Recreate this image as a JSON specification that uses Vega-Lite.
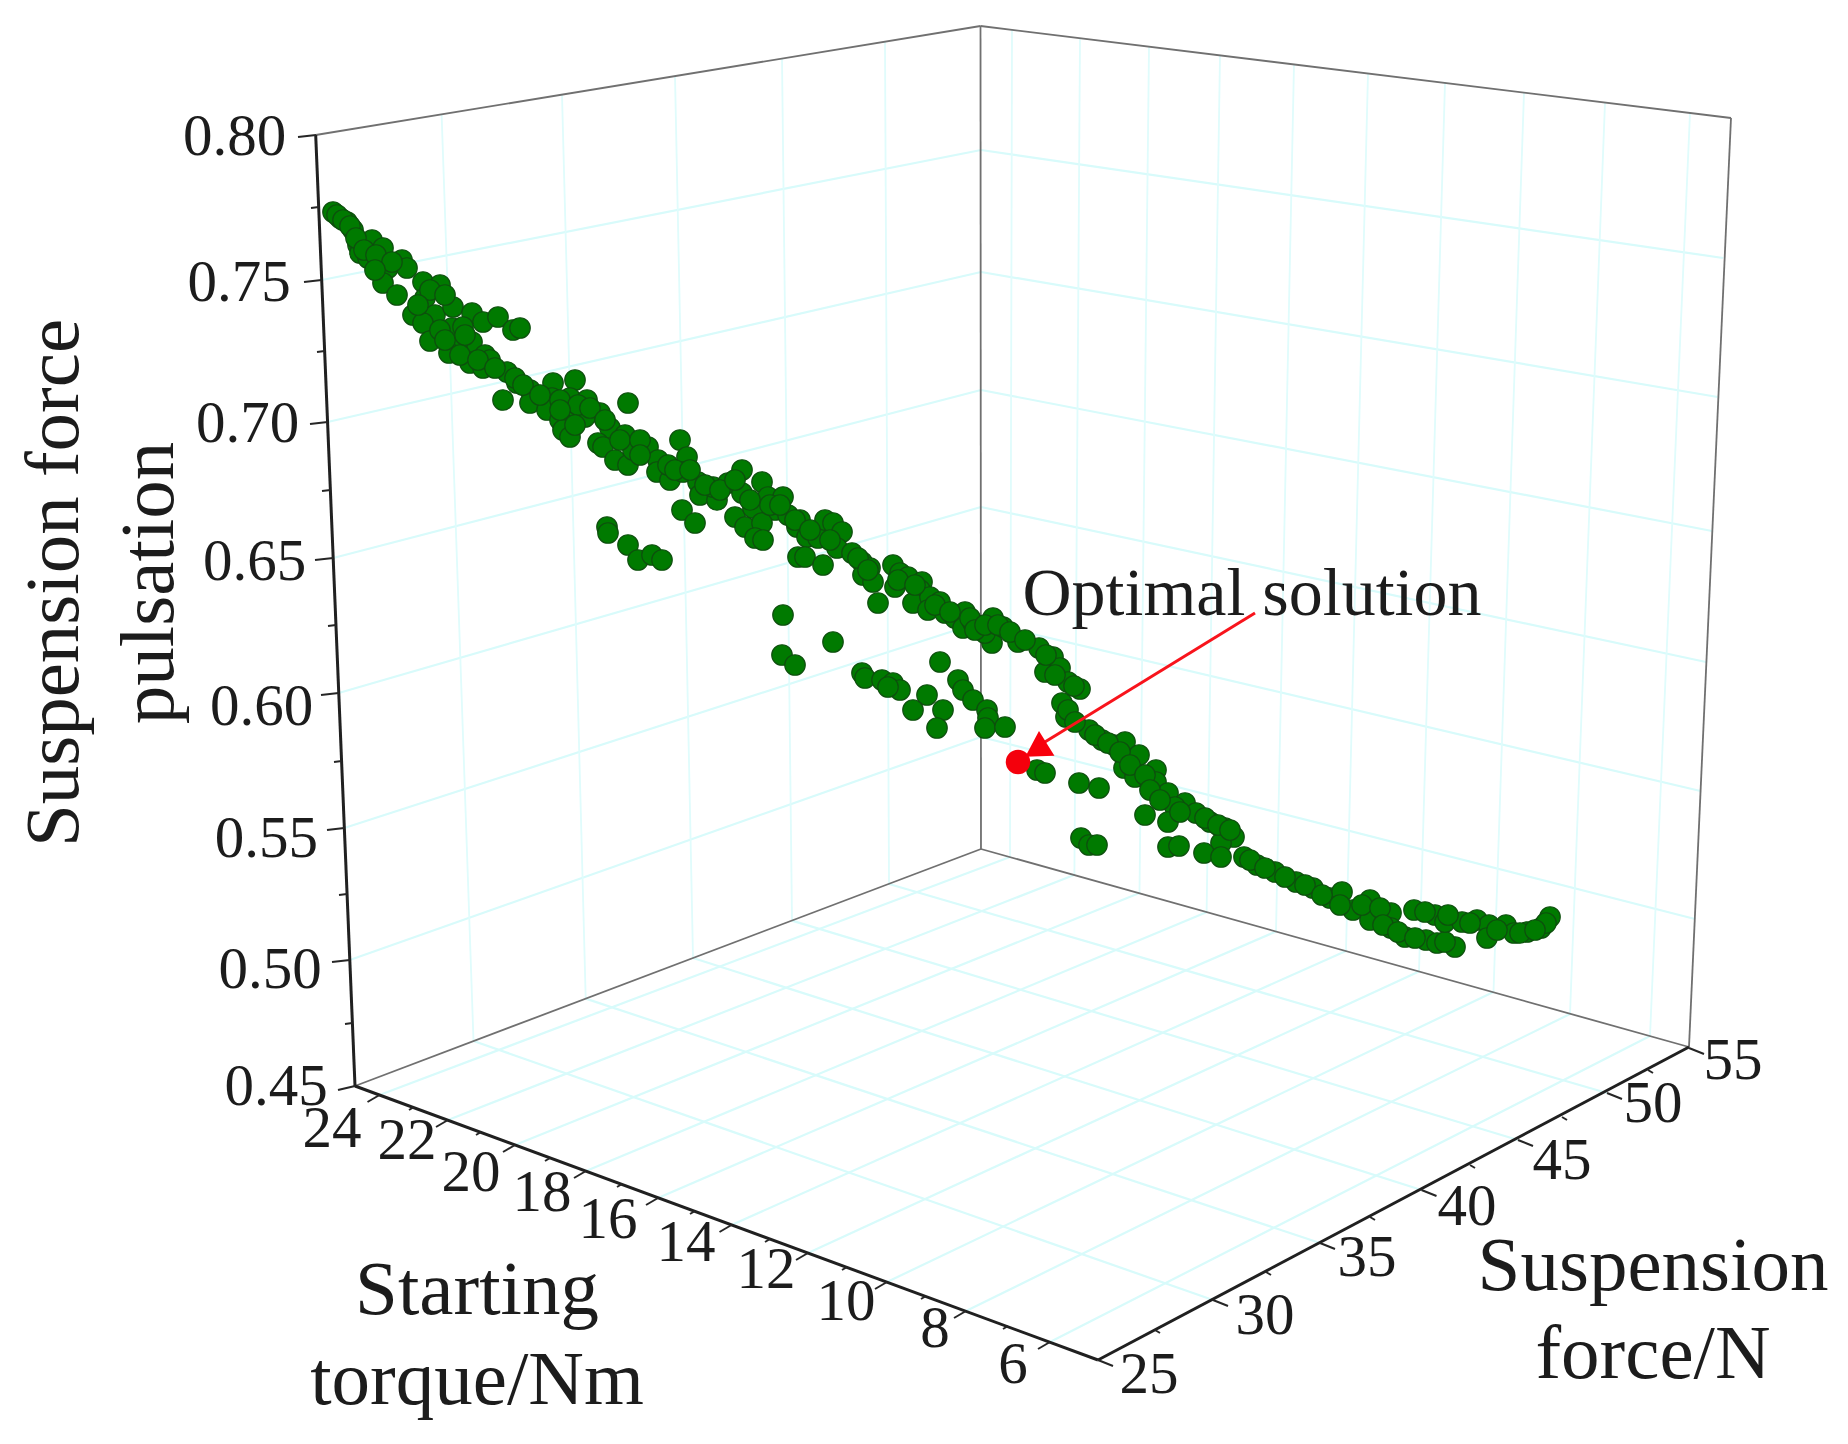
{"$schema":"https://vega.github.io/schema/vega-lite/v6.json","width":1848,"height":1444,"autosize":{"type":"fit","contains":"padding"},"padding":0,"background":"white","view":{"stroke":null},
"datasets":{
"gridH":[{"x0":321.7,"y0":280,"x1":981,"y1":150},{"x0":327.6,"y0":422,"x1":981,"y1":272},{"x0":333.2,"y0":558,"x1":981,"y1":390},{"x0":338.7,"y0":693,"x1":981,"y1":507},{"x0":344.3,"y0":828,"x1":981,"y1":622},{"x0":349.8,"y0":960,"x1":981,"y1":737},{"x0":981,"y0":150,"x1":1723,"y1":258},{"x0":981,"y0":272,"x1":1717.6,"y1":397},{"x0":981,"y0":390,"x1":1712,"y1":531},{"x0":981,"y0":507,"x1":1706,"y1":662},{"x0":981,"y0":622,"x1":1700.5,"y1":791},{"x0":981,"y0":737,"x1":1695,"y1":919},
{"x0":379.5,"y0":1095,"x1":1010,"y1":857},{"x0":448,"y0":1120,"x1":1074,"y1":875},{"x0":515,"y0":1145,"x1":1139.5,"y1":893},{"x0":586,"y0":1171,"x1":1207,"y1":912},{"x0":658,"y0":1198,"x1":1276,"y1":931.5},{"x0":731.5,"y0":1225,"x1":1346,"y1":951},{"x0":808,"y0":1253,"x1":1419,"y1":971.5},{"x0":887,"y0":1282,"x1":1493.5,"y1":992},{"x0":966,"y0":1311,"x1":1570,"y1":1014},{"x0":1050,"y0":1342,"x1":1650,"y1":1036},
{"x0":473.5,"y0":1041,"x1":1213,"y1":1300},{"x0":585.7,"y0":998.6,"x1":1320,"y1":1243},{"x0":693,"y0":958,"x1":1421.5,"y1":1190},{"x0":792,"y0":920.6,"x1":1518,"y1":1140},{"x0":889,"y0":884,"x1":1607,"y1":1093}],
"gridV":[{"x0":441.6,"y0":114.4,"x1":473.5,"y1":1041},{"x0":562,"y0":94.7,"x1":585.7,"y1":998.6},{"x0":675,"y0":76,"x1":693,"y1":958},{"x0":782,"y0":58.6,"x1":792,"y1":920.6},{"x0":885,"y0":41.7,"x1":889,"y1":884},
{"x0":1012,"y0":30,"x1":1010,"y1":857},{"x0":1080,"y0":38,"x1":1074.4,"y1":875},{"x0":1149,"y0":47,"x1":1139.5,"y1":893},{"x0":1220,"y0":55,"x1":1206.6,"y1":912},{"x0":1294,"y0":64,"x1":1276,"y1":931.5},{"x0":1368,"y0":73.5,"x1":1346,"y1":951},{"x0":1445,"y0":83,"x1":1419,"y1":971.5},{"x0":1524,"y0":92.6,"x1":1493.5,"y1":992},{"x0":1605,"y0":102.6,"x1":1570,"y1":1014},{"x0":1690,"y0":113,"x1":1650,"y1":1036}],
"walls":[{"x0":315.7,"y0":135,"x1":980.5,"y1":26},{"x0":980.5,"y0":26,"x1":1731,"y1":118},{"x0":980.5,"y0":26,"x1":981,"y1":849},{"x0":1731,"y0":118,"x1":1689,"y1":1047},{"x0":355,"y0":1086,"x1":981,"y1":849},{"x0":981,"y0":849,"x1":1689,"y1":1047}],
"axes":[{"x0":315.7,"y0":135,"x1":355,"y1":1086},{"x0":355,"y0":1086,"x1":1098,"y1":1360},{"x0":1098,"y0":1360,"x1":1689,"y1":1047}],
"ticks":[{"x0":298,"y0":137,"x1":316,"y1":135},{"x0":304,"y0":282,"x1":321.7,"y1":280},{"x0":310,"y0":424,"x1":327.6,"y1":422},{"x0":315,"y0":560,"x1":333.2,"y1":558},{"x0":321,"y0":695,"x1":338.7,"y1":693},{"x0":327,"y0":830,"x1":344.3,"y1":828},{"x0":332,"y0":962,"x1":349.8,"y1":960},{"x0":338,"y0":1090,"x1":355,"y1":1086},
{"x0":311,"y0":208,"x1":318.7,"y1":207},{"x0":317,"y0":352,"x1":324.7,"y1":351},{"x0":322,"y0":491,"x1":330.4,"y1":490},{"x0":328,"y0":626,"x1":336,"y1":625},{"x0":334,"y0":762,"x1":341.6,"y1":761},{"x0":339,"y0":895,"x1":347,"y1":894},{"x0":345,"y0":1024,"x1":352.4,"y1":1023},
{"x0":379.5,"y0":1095,"x1":367.5,"y1":1102},{"x0":448,"y0":1120,"x1":436,"y1":1127},{"x0":515,"y0":1145,"x1":503,"y1":1152},{"x0":586,"y0":1171,"x1":574,"y1":1178},{"x0":658,"y0":1198,"x1":646,"y1":1205},{"x0":731.5,"y0":1225,"x1":719.5,"y1":1232},{"x0":808,"y0":1253,"x1":796,"y1":1260},{"x0":887,"y0":1282,"x1":875,"y1":1289},{"x0":966,"y0":1311,"x1":954,"y1":1318},{"x0":1050,"y0":1342,"x1":1038,"y1":1349},
{"x0":414,"y0":1107,"x1":409,"y1":1110},{"x0":481,"y0":1132,"x1":476,"y1":1135},{"x0":550,"y0":1158,"x1":545,"y1":1161},{"x0":622,"y0":1184,"x1":617,"y1":1187},{"x0":695,"y0":1211,"x1":690,"y1":1214},{"x0":770,"y0":1239,"x1":765,"y1":1242},{"x0":847,"y0":1267,"x1":842,"y1":1270},{"x0":926,"y0":1296,"x1":921,"y1":1299},{"x0":1008,"y0":1326,"x1":1003,"y1":1329},
{"x0":1098,"y0":1360,"x1":1113,"y1":1366},{"x0":1213,"y0":1300,"x1":1228,"y1":1306},{"x0":1320,"y0":1243,"x1":1335,"y1":1249},{"x0":1421.5,"y0":1190,"x1":1436.5,"y1":1196},{"x0":1518,"y0":1140,"x1":1533,"y1":1146},{"x0":1607,"y0":1093,"x1":1622,"y1":1099},{"x0":1689,"y0":1048,"x1":1704,"y1":1054},
{"x0":1155,"y0":1330,"x1":1160,"y1":1333},{"x0":1266,"y0":1272,"x1":1271,"y1":1275},{"x0":1370,"y0":1217,"x1":1375,"y1":1220},{"x0":1470,"y0":1165,"x1":1475,"y1":1168},{"x0":1562,"y0":1117,"x1":1567,"y1":1120},{"x0":1648,"y0":1070,"x1":1653,"y1":1073}],
"pts":[{"x0":333,"y0":212},{"x0":340,"y0":218},{"x0":347,"y0":222},{"x0":353,"y0":230},{"x0":358,"y0":245},{"x0":360,"y0":253},{"x0":368,"y0":258},{"x0":372,"y0":240},{"x0":383,"y0":248},{"x0":380,"y0":262},{"x0":388,"y0":268},{"x0":402,"y0":260},{"x0":407,"y0":268},{"x0":383,"y0":283},{"x0":397,"y0":295},{"x0":423,"y0":282},{"x0":440,"y0":285},{"x0":425,"y0":298},{"x0":413,"y0":315},{"x0":435,"y0":315},{"x0":423,"y0":323},{"x0":453,"y0":307},{"x0":472,"y0":313},{"x0":483,"y0":322},{"x0":498,"y0":317},{"x0":513,"y0":330},{"x0":520,"y0":328},{"x0":452,"y0":328},{"x0":463,"y0":327},{"x0":430,"y0":341},{"x0":472,"y0":342},{"x0":457,"y0":345},{"x0":449,"y0":353},{"x0":485,"y0":355},{"x0":470,"y0":363},{"x0":483,"y0":368},{"x0":490,"y0":360},{"x0":507,"y0":372},{"x0":517,"y0":383},{"x0":530,"y0":390},{"x0":503,"y0":400},{"x0":530,"y0":403},{"x0":553,"y0":383},{"x0":575,"y0":380},{"x0":552,"y0":398},{"x0":570,"y0":398},{"x0":547,"y0":410},{"x0":587,"y0":400},{"x0":600,"y0":413},{"x0":572,"y0":417},{"x0":585,"y0":417},{"x0":560,"y0":420},{"x0":563,"y0":430},{"x0":570,"y0":437},{"x0":628,"y0":403},{"x0":610,"y0":428},{"x0":625,"y0":435},{"x0":598,"y0":443},{"x0":603,"y0":447},{"x0":615,"y0":460},{"x0":628,"y0":465},{"x0":633,"y0":450},{"x0":648,"y0":447},{"x0":658,"y0":460},{"x0":657,"y0":472},{"x0":670,"y0":480},{"x0":680,"y0":440},{"x0":687,"y0":457},{"x0":683,"y0":472},{"x0":698,"y0":482},{"x0":700,"y0":495},{"x0":717,"y0":500},{"x0":713,"y0":487},{"x0":728,"y0":483},{"x0":742,"y0":470},{"x0":742,"y0":493},{"x0":682,"y0":510},{"x0":695,"y0":523},{"x0":735,"y0":517},{"x0":745,"y0":527},{"x0":607,"y0":527},{"x0":608,"y0":533},{"x0":628,"y0":545},{"x0":638,"y0":560},{"x0":652,"y0":555},{"x0":662,"y0":560},{"x0":762,"y0":482},{"x0":768,"y0":497},{"x0":783,"y0":497},{"x0":775,"y0":510},{"x0":753,"y0":508},{"x0":762,"y0":523},{"x0":755,"y0":538},{"x0":763,"y0":540},{"x0":788,"y0":515},{"x0":800,"y0":520},{"x0":797,"y0":527},{"x0":807,"y0":537},{"x0":818,"y0":538},{"x0":825,"y0":520},{"x0":833,"y0":523},{"x0":842,"y0":532},{"x0":837,"y0":548},{"x0":798,"y0":557},{"x0":805,"y0":557},{"x0":823,"y0":565},{"x0":852,"y0":553},{"x0":862,"y0":562},{"x0":870,"y0":568},{"x0":863,"y0":575},{"x0":873,"y0":582},{"x0":878,"y0":603},{"x0":893,"y0":565},{"x0":900,"y0":573},{"x0":895,"y0":587},{"x0":908,"y0":577},{"x0":922,"y0":582},{"x0":920,"y0":590},{"x0":913,"y0":603},{"x0":930,"y0":597},{"x0":928,"y0":610},{"x0":940,"y0":602},{"x0":945,"y0":613},{"x0":955,"y0":618},{"x0":965,"y0":612},{"x0":963,"y0":628},{"x0":980,"y0":628},{"x0":993,"y0":618},{"x0":992,"y0":643},{"x0":1003,"y0":627},{"x0":973,"y0":623},{"x0":985,"y0":633},{"x0":783,"y0":615},{"x0":782,"y0":655},{"x0":795,"y0":665},{"x0":833,"y0":642},{"x0":940,"y0":662},{"x0":862,"y0":673},{"x0":865,"y0":678},{"x0":882,"y0":680},{"x0":893,"y0":683},{"x0":900,"y0":690},{"x0":927,"y0":695},{"x0":913,"y0":710},{"x0":943,"y0":710},{"x0":937,"y0":728},{"x0":958,"y0":680},{"x0":963,"y0":690},{"x0":973,"y0":700},{"x0":987,"y0":710},{"x0":988,"y0":718},{"x0":985,"y0":728},{"x0":1005,"y0":727},{"x0":1018,"y0":642},{"x0":1039,"y0":648},{"x0":1053,"y0":657},{"x0":1045,"y0":672},{"x0":1060,"y0":668},{"x0":1068,"y0":682},{"x0":1080,"y0":689},{"x0":1062,"y0":703},{"x0":1066,"y0":717},{"x0":1089,"y0":730},{"x0":1102,"y0":740},{"x0":1114,"y0":745},{"x0":1125,"y0":742},{"x0":1139,"y0":755},{"x0":1124,"y0":768},{"x0":1135,"y0":777},{"x0":1156,"y0":770},{"x0":1156,"y0":782},{"x0":1168,"y0":793},{"x0":1185,"y0":803},{"x0":1175,"y0":807},{"x0":1196,"y0":813},{"x0":1210,"y0":822},{"x0":1225,"y0":828},{"x0":1234,"y0":837},{"x0":1221,"y0":843},{"x0":1145,"y0":815},{"x0":1168,"y0":822},{"x0":1168,"y0":847},{"x0":1179,"y0":846},{"x0":1204,"y0":853},{"x0":1221,"y0":857},{"x0":1081,"y0":838},{"x0":1089,"y0":845},{"x0":1097,"y0":845},{"x0":1079,"y0":783},{"x0":1099,"y0":788},{"x0":1037,"y0":770},{"x0":1045,"y0":773},{"x0":1244,"y0":857},{"x0":1257,"y0":865},{"x0":1275,"y0":872},{"x0":1296,"y0":882},{"x0":1313,"y0":888},{"x0":1330,"y0":898},{"x0":1342,"y0":892},{"x0":1353,"y0":910},{"x0":1370,"y0":900},{"x0":1370,"y0":920},{"x0":1391,"y0":913},{"x0":1391,"y0":928},{"x0":1405,"y0":937},{"x0":1426,"y0":940},{"x0":1437,"y0":943},{"x0":1455,"y0":947},{"x0":1445,"y0":942},{"x0":1414,"y0":910},{"x0":1435,"y0":915},{"x0":1445,"y0":922},{"x0":1462,"y0":922},{"x0":1477,"y0":920},{"x0":1489,"y0":925},{"x0":1487,"y0":938},{"x0":1506,"y0":925},{"x0":1514,"y0":933},{"x0":1527,"y0":932},{"x0":1541,"y0":928},{"x0":1550,"y0":917},{"x0":1546,"y0":923},
{"x0":1095,"y0":735},{"x0":1108,"y0":743},{"x0":1120,"y0":752},{"x0":1130,"y0":765},{"x0":1145,"y0":775},{"x0":1150,"y0":790},{"x0":1160,"y0":800},{"x0":1180,"y0":812},{"x0":1205,"y0":818},{"x0":1218,"y0":825},{"x0":1230,"y0":830},{"x0":1250,"y0":860},{"x0":1265,"y0":868},{"x0":1285,"y0":877},{"x0":1305,"y0":885},{"x0":1322,"y0":895},{"x0":1340,"y0":905},{"x0":1362,"y0":905},{"x0":1380,"y0":908},{"x0":1383,"y0":925},{"x0":1398,"y0":932},{"x0":1415,"y0":938},{"x0":1425,"y0":912},{"x0":1448,"y0":915},{"x0":1470,"y0":923},{"x0":1497,"y0":930},{"x0":1520,"y0":933},{"x0":1535,"y0":930},
{"x0":337,"y0":215},{"x0":343,"y0":220},{"x0":350,"y0":226},{"x0":356,"y0":238},{"x0":364,"y0":250},{"x0":376,"y0":255},{"x0":392,"y0":262},{"x0":375,"y0":270},{"x0":430,"y0":290},{"x0":445,"y0":295},{"x0":418,"y0":305},{"x0":440,"y0":330},{"x0":445,"y0":340},{"x0":465,"y0":335},{"x0":460,"y0":355},{"x0":478,"y0":360},{"x0":495,"y0":368},{"x0":515,"y0":378},{"x0":523,"y0":385},{"x0":540,"y0":395},{"x0":560,"y0":400},{"x0":578,"y0":405},{"x0":560,"y0":410},{"x0":575,"y0":425},{"x0":590,"y0":408},{"x0":605,"y0":420},{"x0":620,"y0":440},{"x0":640,"y0":440},{"x0":640,"y0":455},{"x0":668,"y0":465},{"x0":675,"y0":470},{"x0":690,"y0":470},{"x0":705,"y0":485},{"x0":720,"y0":490},{"x0":735,"y0":480},{"x0":750,"y0":500},{"x0":770,"y0":505},{"x0":780,"y0":505},{"x0":795,"y0":520},{"x0":810,"y0":530},{"x0":830,"y0":540},{"x0":858,"y0":558},{"x0":868,"y0":570},{"x0":898,"y0":580},{"x0":915,"y0":585},{"x0":935,"y0":605},{"x0":950,"y0":612},{"x0":970,"y0":618},{"x0":975,"y0":630},{"x0":985,"y0":625},{"x0":998,"y0":625},{"x0":1010,"y0":632},{"x0":1025,"y0":640},{"x0":1046,"y0":655},{"x0":1055,"y0":675},{"x0":1074,"y0":686},{"x0":1068,"y0":710},{"x0":1075,"y0":722},{"x0":888,"y0":687}],
"arrow":[{"x0":1255,"y0":613,"x1":1040,"y1":745}],
"best":[{"x0":1018,"y0":762}],
"head":[{"x0":1036,"y0":750}],
"tickText":[{"x0":234.5,"y0":137,"t":"0.80"},{"x0":239,"y0":283,"t":"0.75"},{"x0":247.5,"y0":424,"t":"0.70"},{"x0":254.6,"y0":562,"t":"0.65"},{"x0":261.6,"y0":707,"t":"0.60"},{"x0":266.4,"y0":839,"t":"0.55"},{"x0":270,"y0":970,"t":"0.50"},{"x0":276,"y0":1087,"t":"0.45"},
{"x0":332,"y0":1129,"t":"24"},{"x0":407,"y0":1141,"t":"22"},{"x0":471,"y0":1173,"t":"20"},{"x0":542,"y0":1193,"t":"18"},{"x0":608,"y0":1220,"t":"16"},{"x0":686,"y0":1243,"t":"14"},{"x0":766,"y0":1270,"t":"12"},{"x0":846,"y0":1302,"t":"10"},{"x0":935,"y0":1329,"t":"8"},{"x0":1013,"y0":1365,"t":"6"},
{"x0":1149,"y0":1375,"t":"25"},{"x0":1265,"y0":1316,"t":"30"},{"x0":1367,"y0":1258,"t":"35"},{"x0":1467,"y0":1207,"t":"40"},{"x0":1562,"y0":1161,"t":"45"},{"x0":1653,"y0":1104,"t":"50"},{"x0":1733,"y0":1061,"t":"55"}],
"titles":[{"x0":477,"y0":1291,"t":"Starting"},{"x0":477,"y0":1381,"t":"torque/Nm"},{"x0":1653,"y0":1267,"t":"Suspension"},{"x0":1653,"y0":1355,"t":"force/N"}],
"vtitles":[{"x0":55,"y0":583,"t":"Suspension force"},{"x0":150,"y0":583,"t":"pulsation"}],
"note":[{"x0":1252,"y0":595,"t":"Optimal solution"}]
},
"encoding":{
"x":{"field":"x0","type":"quantitative","scale":{"domain":[0,1848],"nice":false,"zero":false},"axis":null},
"y":{"field":"y0","type":"quantitative","scale":{"domain":[1444,0],"nice":false,"zero":false},"axis":null}
},
"layer":[
{"data":{"name":"gridH"},"mark":{"type":"rule","stroke":"#d8fbfb","strokeWidth":2.2},"encoding":{"x2":{"field":"x1"},"y2":{"field":"y1"}}},
{"data":{"name":"gridV"},"mark":{"type":"rule","stroke":"#e0fcfc","strokeWidth":1.8},"encoding":{"x2":{"field":"x1"},"y2":{"field":"y1"}}},
{"data":{"name":"walls"},"mark":{"type":"rule","stroke":"#707070","strokeWidth":1.8},"encoding":{"x2":{"field":"x1"},"y2":{"field":"y1"}}},
{"data":{"name":"axes"},"mark":{"type":"rule","stroke":"#202020","strokeWidth":3},"encoding":{"x2":{"field":"x1"},"y2":{"field":"y1"}}},
{"data":{"name":"ticks"},"mark":{"type":"rule","stroke":"#262626","strokeWidth":2},"encoding":{"x2":{"field":"x1"},"y2":{"field":"y1"}}},
{"data":{"name":"pts"},"mark":{"type":"point","filled":true,"shape":"circle","size":420,"fill":"#007a00","stroke":"#0d4f0d","strokeWidth":1.2,"opacity":1}},
{"data":{"name":"best"},"mark":{"type":"point","filled":true,"shape":"circle","size":600,"fill":"#f4000c","opacity":1}},
{"data":{"name":"arrow"},"mark":{"type":"rule","stroke":"#f8141c","strokeWidth":3},"encoding":{"x2":{"field":"x1"},"y2":{"field":"y1"}}},
{"data":{"name":"head"},"mark":{"type":"point","filled":true,"shape":"triangle-up","size":850,"angle":238,"fill":"#f8000c","opacity":1}},
{"data":{"name":"tickText"},"mark":{"type":"text","font":"Liberation Serif","fontSize":59,"fill":"#1c1c1c","align":"center","baseline":"middle"},"encoding":{"text":{"field":"t"}}},
{"data":{"name":"titles"},"mark":{"type":"text","font":"Liberation Serif","fontSize":77,"fill":"#1c1c1c","align":"center","baseline":"middle"},"encoding":{"text":{"field":"t"}}},
{"data":{"name":"vtitles"},"mark":{"type":"text","font":"Liberation Serif","fontSize":77,"fill":"#1c1c1c","align":"center","baseline":"middle","angle":270},"encoding":{"text":{"field":"t"}}},
{"data":{"name":"note"},"mark":{"type":"text","font":"Liberation Serif","fontSize":68,"fill":"#1c1c1c","align":"center","baseline":"middle"},"encoding":{"text":{"field":"t"}}}
]}
